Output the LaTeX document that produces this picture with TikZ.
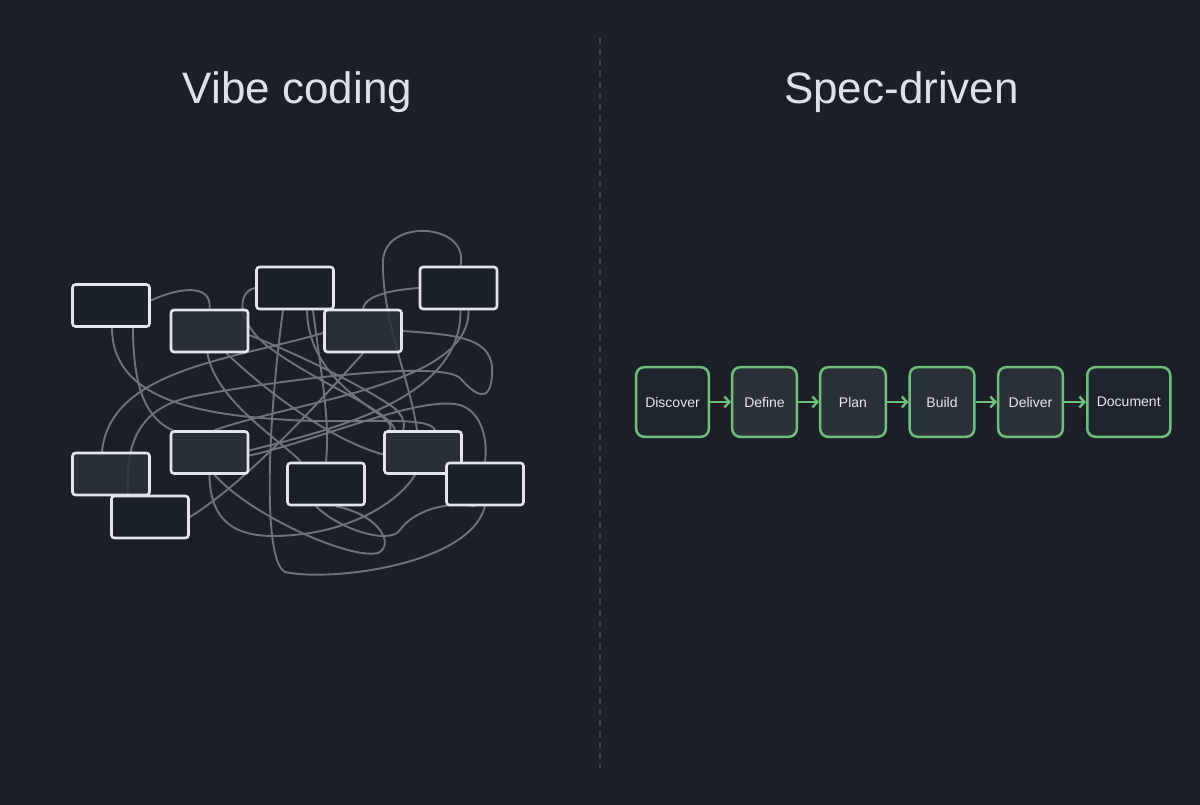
\documentclass[tikz,border=0pt]{standalone}
\usepackage{fontspec}
\setmainfont{Liberation Sans}
\usetikzlibrary{arrows.meta}
\definecolor{bg}{HTML}{1B2028}
\definecolor{divider}{HTML}{3A414A}
\definecolor{titlecol}{HTML}{DDE2E8}
\definecolor{boxborder}{HTML}{E2E6EB}
\definecolor{boxlight}{HTML}{2C323B}
\definecolor{boxdark}{HTML}{1B2129}
\definecolor{tangle}{HTML}{6E747B}
\definecolor{flowgreen}{HTML}{6DBE7A}
\definecolor{flowdark}{HTML}{1E242C}
\definecolor{flowlight}{HTML}{2A3038}
\definecolor{flowtext}{HTML}{E6E9EC}
\pgfdeclarelayer{bglayer}
\pgfdeclarelayer{linelayer}
\pgfsetlayers{bglayer,linelayer,main}
\tikzset{
  vbox/.style={draw=boxborder, line width=2.6pt, rounded corners=3pt, minimum width=77pt, minimum height=42pt, inner sep=0pt},
  vlight/.style={vbox, fill=boxlight, fill opacity=0.85},
  vdark/.style={vbox, fill=boxdark},
  tangleline/.style={draw=tangle, line width=1.9pt},
  flowbox/.style={draw=flowgreen, line width=2.5pt, rounded corners=8pt, minimum height=69.6pt, inner sep=0pt, font=\fontsize{14}{16}\selectfont, text=flowtext},
  flowarrow/.style={draw=flowgreen, line width=2.4pt, -{Straight Barb[length=5pt,width=11pt]}},
  titletext/.style={font=\fontsize{44}{52}\selectfont, text=titlecol, anchor=base, inner sep=0pt},
  dividerline/.style={draw=divider, line width=1.2pt, dash pattern=on 6pt off 5pt}
}
\begin{document}
\begin{tikzpicture}[x=1pt,y=-1pt]
\begin{pgfonlayer}{bglayer}
\fill[bg] (0,0) rectangle (1200,805);
\end{pgfonlayer}
\useasboundingbox (0,0) rectangle (1200,805);

% titles
\node[titletext] (vibe) at (297.5,104) {Vibe coding};
\node[titletext] (spec) at (901.5,104) {Spec-driven};

% divider
\coordinate (dtop) at (600,38);
\coordinate (dbot) at (600,768);
\draw[dividerline] (dtop) -- (dbot);

% left boxes
\node[vdark]  (A) at (111,305.5) {};
\node[vdark]  (C) at (295,288) {};
\node[vdark]  (D) at (458.5,288) {};
\node[vlight] (B) at (209.5,331) {};
\node[vlight] (E) at (363,331) {};
\node[vlight] (F) at (209.5,452.5) {};
\node[vlight] (J) at (423,452.5) {};
\node[vdark]  (K) at (485,484) {};
\node[vlight] (G) at (111,474) {};
\node[vdark]  (H) at (150,517) {};
\node[vdark]  (I) at (326,484) {};

% tangle
\begin{pgfonlayer}{linelayer}
\draw[tangleline] ([yshift=5pt]A.east) .. controls (185,285) and (212,286) .. (B.north);
\draw[tangleline] ([xshift=1pt]A.south) .. controls (112,400) and (200,415) .. (290,420) .. controls (360,424) and (430,415) .. ([xshift=12pt]J.north);
\draw[tangleline] ([xshift=22pt]A.south) .. controls (133,395) and (150,420) .. ([xshift=-37pt]F.north);
\draw[tangleline] ([xshift=17pt]B.south) .. controls (265,390) and (330,440) .. ([yshift=-2pt]J.west);
\draw[tangleline] ([yshift=-4pt]B.east) .. controls (300,355) and (360,385) .. (390,405) .. controls (405,415) and (405,425) .. ([xshift=-20pt]J.north);
\draw[tangleline] ([xshift=-2pt]B.south) .. controls (215,400) and (280,440) .. ([xshift=-25pt]I.north);
\draw[tangleline] ([xshift=-12pt]C.south) .. controls (268,420) and (262,560) .. (285,572) .. controls (330,582) and (470,565) .. (K.south);
\draw[tangleline] ([xshift=12pt]C.south) .. controls (308,370) and (360,400) .. (380,415) .. controls (392,424) and (392,428) .. ([xshift=-34pt]J.north);
\draw[tangleline] ([xshift=18pt]C.south) .. controls (322,380) and (330,420) .. (I.north);
\draw[tangleline] (C.west) .. controls (235,292) and (238,325) .. (270,348) .. controls (320,385) and (390,410) .. ([xshift=-28pt]J.north);
\draw[tangleline] (E.south) .. controls (330,390) and (250,480) .. (H.east);
\draw[tangleline] ([yshift=-2pt]E.west) .. controls (230,360) and (110,370) .. ([xshift=-9pt]G.north);
\draw[tangleline] (D.west) .. controls (390,290) and (365,296) .. (E.north);
\draw[tangleline] ([xshift=2pt]D.south) .. controls (462,400) and (330,430) .. ([yshift=2pt]F.east);
\draw[tangleline] ([xshift=2pt]D.north) .. controls (470,222) and (383,218) .. (383,262) .. controls (382,320) and (410,380) .. ([xshift=-6pt]J.north);
\draw[tangleline] (E.east) .. controls (460,335) and (495,338) .. (492,375) .. controls (490,405) and (475,395) .. (460,378) .. controls (440,360) and (280,380) .. (200,395) .. controls (140,405) and (125,440) .. ([xshift=-22pt]H.north);
\draw[tangleline] ([yshift=-3pt]F.east) .. controls (320,440) and (420,395) .. (460,405) .. controls (482,412) and (488,440) .. (K.north);
\draw[tangleline] ([xshift=5pt]F.south) .. controls (250,515) and (350,560) .. (378,553) .. controls (395,545) and (380,515) .. ([xshift=10pt]I.south);
\draw[tangleline] (F.south) .. controls (210,540) and (260,540) .. (310,533) .. controls (360,525) and (400,500) .. ([xshift=-8pt]J.south);
\draw[tangleline] ([xshift=5pt]F.north) .. controls (300,400) and (470,385) .. ([xshift=10pt]D.south);
\draw[tangleline] ([xshift=-10pt]I.south) .. controls (340,530) and (390,545) .. (400,530) .. controls (410,515) and (440,500) .. ([xshift=-10pt]K.south);
\end{pgfonlayer}

% right flow
\node[flowbox, fill=flowdark,  minimum width=72.6pt] (discover) at (672.5,402) {Discover};
\node[flowbox, fill=flowlight, minimum width=64.6pt] (define)   at (764.5,402) {Define};
\node[flowbox, fill=flowlight, minimum width=65.6pt] (plan)     at (853,402)   {Plan};
\node[flowbox, fill=flowlight, minimum width=64.6pt] (build)    at (942,402)   {Build};
\node[flowbox, fill=flowlight, minimum width=64.6pt] (deliver)  at (1030.5,402) {Deliver};
\node[flowbox, fill=flowdark,  minimum width=83pt]   (document) at (1128.75,402) {Document};

\draw[flowarrow] (discover.east) -- (define.west);
\draw[flowarrow] (define.east) -- (plan.west);
\draw[flowarrow] (plan.east) -- (build.west);
\draw[flowarrow] (build.east) -- (deliver.west);
\draw[flowarrow] (deliver.east) -- (document.west);
\end{tikzpicture}
\end{document}
